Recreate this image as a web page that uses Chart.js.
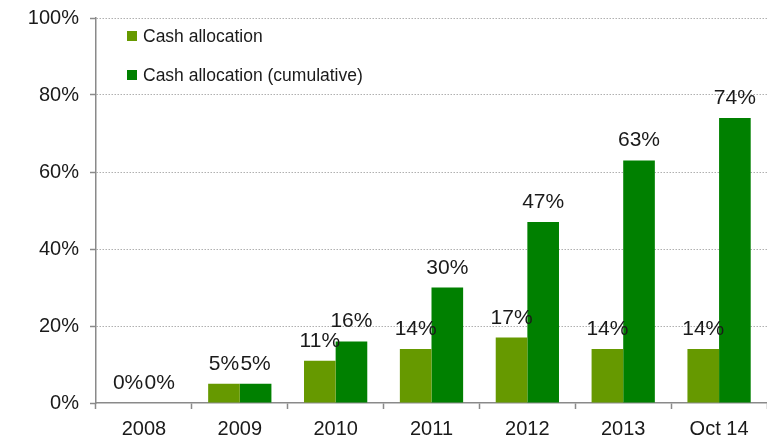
<!DOCTYPE html>
<html>
<head>
<meta charset="utf-8">
<script src="https://cdn.jsdelivr.net/npm/chart.js@4"></script>
<style>
  html, body { margin: 0; padding: 0; background: #fff; }
  #wrap { position: relative; width: 767px; height: 438px; }
</style>
</head>
<body>
<div id="wrap"><canvas id="cashChart"></canvas></div>
<script>
/* ── data ─────────────────────────────────────────────────── */
const years          = ['2008', '2009', '2010', '2011', '2012', '2013', 'Oct 14'];
const cashAlloc      = [0, 5, 11, 14, 17, 14, 14];
const cashCumulative = [0, 5, 16, 30, 47, 63, 74];
const seriesNames    = ['Cash allocation', 'Cash allocation (cumulative)'];
const yTicks         = [0, 20, 40, 60, 80, 100];

const C = {
    light: '#669900',
    dark:  '#008000',
    axis:  '#8a8a8a',
    grid:  '#b0b0b0',
    text:  '#1a1a1a',
};
const FONT = "'Liberation Sans', Arial, sans-serif";

Chart.defaults.font.family = FONT;
Chart.defaults.color = C.text;

/* value labels above each bar */
const barLabels = {
    id: 'barLabels',
    afterDatasetsDraw(chart) {
        const ctx = chart.ctx;
        ctx.save();
        ctx.font = '21px ' + FONT;
        ctx.fillStyle = C.text;
        ctx.textAlign = 'center';
        ctx.textBaseline = 'alphabetic';
        chart.data.datasets.forEach((ds, di) => {
            chart.getDatasetMeta(di).data.forEach((bar, i) => {
                ctx.fillText(ds.data[i] + '%', bar.x, bar.y - 14);
            });
        });
        ctx.restore();
    }
};

/* legend box inside the plot, top left */
const innerLegend = {
    id: 'innerLegend',
    afterDraw(chart) {
        const { ctx, chartArea } = chart;
        ctx.save();
        ctx.font = '17.5px ' + FONT;
        ctx.textBaseline = 'alphabetic';
        chart.data.datasets.forEach((ds, i) => {
            const y = chartArea.top + 13 + i * 39;
            ctx.fillStyle = ds.backgroundColor;
            ctx.fillRect(chartArea.left + 31, y, 10, 10);
            ctx.fillStyle = C.text;
            ctx.fillText(ds.label, chartArea.left + 47, y + 11);
        });
        ctx.restore();
    }
};

new Chart(document.getElementById('cashChart'), {
    type: 'bar',
    data: {
        labels: years,
        datasets: [
            {
                label: seriesNames[0],
                data: cashAlloc,
                backgroundColor: C.light,
                borderWidth: 0,
                categoryPercentage: 0.66,
                barPercentage: 1,
            },
            {
                label: seriesNames[1],
                data: cashCumulative,
                backgroundColor: C.dark,
                borderWidth: 0,
                categoryPercentage: 0.66,
                barPercentage: 1,
            },
        ]
    },
    options: {
        responsive: true,
        maintainAspectRatio: false,
        animation: false,
        layout: { padding: { top: 18, right: 0, bottom: 0, left: 0 } },
        plugins: {
            legend: { display: false },
            tooltip: { enabled: false },
        },
        scales: {
            x: {
                afterFit: s => { s.height = 35; s.paddingLeft = 0; s.paddingRight = 0; },
                grid: {
                    drawOnChartArea: false,
                    drawTicks: true,
                    tickLength: 6,
                    tickColor: C.axis,
                    tickWidth: 1.5,
                },
                border: { display: true, color: C.axis, width: 1.5 },
                ticks: { color: C.text, font: { size: 20 }, padding: 8, maxRotation: 0 },
            },
            y: {
                min: 0,
                max: 100,
                afterFit: s => { s.width = 96; s.paddingTop = 0; s.paddingBottom = 0; },
                afterBuildTicks: s => { s.ticks = yTicks.map(v => ({ value: v })); },
                grid: {
                    color: ctx => ctx.tick && ctx.tick.value === 0 ? 'rgba(0,0,0,0)' : C.grid,
                    lineWidth: 1,
                    tickLength: 6,
                    tickColor: C.axis,
                    tickWidth: 1.5,
                },
                border: { display: true, color: C.axis, width: 1.5, dash: [1.5, 1.5] },
                ticks: {
                    color: C.text,
                    font: { size: 20 },
                    padding: 11,
                    callback: v => v + '%',
                },
            },
        }
    },
    plugins: [barLabels, innerLegend]
});
</script>
</body>
</html>
